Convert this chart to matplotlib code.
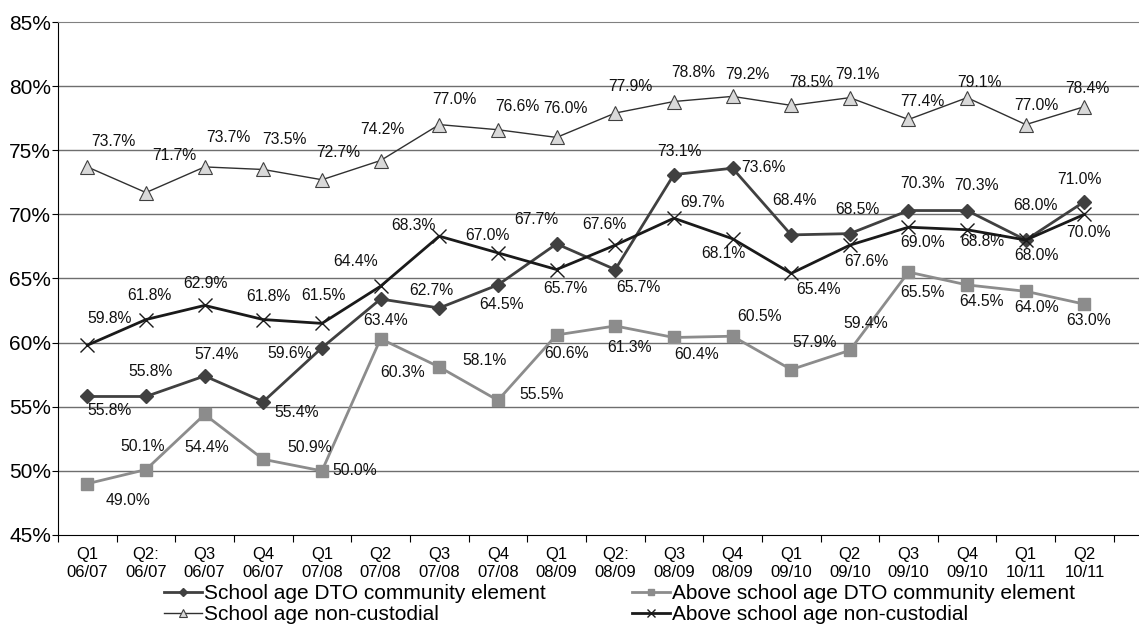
import numpy as np
import matplotlib
matplotlib.use("Agg")
import matplotlib.pyplot as plt

plt.rcParams['font.family'] = ['Liberation Sans', 'DejaVu Sans']

quarters = ["Q1\n06/07", "Q2:\n06/07", "Q3\n06/07", "Q4\n06/07", "Q1\n07/08", "Q2\n07/08",
            "Q3\n07/08", "Q4\n07/08", "Q1\n08/09", "Q2:\n08/09", "Q3\n08/09", "Q4\n08/09",
            "Q1\n09/10", "Q2\n09/10", "Q3\n09/10", "Q4\n09/10", "Q1\n10/11", "Q2\n10/11"]

school_dto = [55.8, 55.8, 57.4, 55.4, 59.6, 63.4, 62.7, 64.5, 67.7, 65.7,
              73.1, 73.6, 68.4, 68.5, 70.3, 70.3, 68.0, 71.0]
above_dto = [49.0, 50.1, 54.4, 50.9, 50.0, 60.3, 58.1, 55.5, 60.6, 61.3,
             60.4, 60.5, 57.9, 59.4, 65.5, 64.5, 64.0, 63.0]
school_nc = [73.7, 71.7, 73.7, 73.5, 72.7, 74.2, 77.0, 76.6, 76.0, 77.9,
             78.8, 79.2, 78.5, 79.1, 77.4, 79.1, 77.0, 78.4]
above_nc = [59.8, 61.8, 62.9, 61.8, 61.5, 64.4, 68.3, 67.0, 65.7, 67.6,
            69.7, 68.1, 65.4, 67.6, 69.0, 68.8, 68.0, 70.0]

# label offsets in pixels (dx, dy up)
off_school_dto = [(22, -14), (5, 25), (12, 21), (33, -11), (-32, -6), (5, -21), (-8, 17),
                  (4, -20), (-20, 24), (23, -18), (6, 23), (31, 1), (3, 34), (8, 24),
                  (14, 27), (9, 25), (10, 35), (-5, 22)]
off_above_dto = [(41, -17), (-3, 23), (2, -33), (46, 12), (33, 0), (22, -34), (45, 6),
                 (44, 6), (10, -19), (14, -22), (23, -17), (27, 20), (23, 27), (16, 27),
                 (14, -20), (14, -17), (11, -16), (4, -16)]
off_school_nc = [(26, 25), (28, 37), (24, 29), (21, 30), (16, 27), (2, 31), (15, 25),
                 (19, 23), (9, 29), (15, 27), (19, 29), (15, 22), (20, 23), (8, 23),
                 (14, 18), (12, 15), (11, 19), (3, 18)]
off_above_nc = [(22, 27), (3, 24), (1, 22), (5, 23), (1, 28), (-25, 25), (-26, 11),
                (-10, 17), (9, -19), (-11, 21), (29, 16), (-9, -15), (27, -16), (17, -16),
                (14, -15), (15, -12), (11, -15), (4, -18)]

W, H = 1139, 624
fig = plt.figure(figsize=(W / 100, H / 100), dpi=100)
ax = fig.add_axes([58 / W, 1 - 535 / H, 1 - 58 / W, (535 - 22) / H])

x = np.arange(len(quarters))

ax.set_ylim(45, 85)
ax.set_xlim(-0.5, 17.93)
for yv in range(50, 85, 5):
    ax.axhline(yv, color="#6e6e6e", lw=1.0, zorder=0)

l1, = ax.plot(x, school_dto, color="#404040", lw=2, marker="D", ms=7, zorder=3,
              label="School age DTO community element")
l2, = ax.plot(x, above_dto, color="#8c8c8c", lw=2, marker="s", ms=8, zorder=3,
              label="Above school age DTO community element")
l3, = ax.plot(x, school_nc, color="#303030", lw=1, marker="^", ms=9.5, mfc="#d9d9d9",
              mec="#404040", mew=0.8, zorder=3, label="School age non-custodial")
l4, = ax.plot(x, above_nc, color="#1a1a1a", lw=2, marker="x", ms=10, mew=1, zorder=3,
              label="Above school age non-custodial")

for vals, offs in [(school_dto, off_school_dto), (above_dto, off_above_dto),
                   (school_nc, off_school_nc), (above_nc, off_above_nc)]:
    for xi, v, (dx, dy) in zip(x, vals, offs):
        ax.annotate(f"{v:.1f}%", (xi, v), xytext=(dx, dy), textcoords="offset pixels",
                    ha="center", va="center", fontsize=11.3, color="#111111", zorder=4)

ax.spines["right"].set_visible(False)
ax.spines["top"].set_color("#808080")
ax.spines["left"].set_color("black")
ax.spines["bottom"].set_color("black")

ax.set_yticks(range(45, 90, 5))
ax.set_yticklabels([f"{v}%" for v in range(45, 90, 5)], fontsize=15)
ax.tick_params(axis="y", length=4, pad=1)

ax.set_xticks(np.arange(-0.5, 18, 1))
ax.set_xticklabels([])
ax.tick_params(axis="x", which="major", length=5)
ax.set_xticks(x, minor=True)
ax.set_xticklabels(quarters, minor=True, fontsize=12, linespacing=1.2)
ax.tick_params(axis="x", which="minor", length=0, pad=9)

leg_kw = dict(ncol=1, loc="upper left", frameon=False, fontsize=15, handlelength=1.8,
              handletextpad=0.12, labelspacing=0.12, markerscale=0.6,
              borderpad=0, borderaxespad=0)
leg1 = fig.legend([l1, l3], [l1.get_label(), l3.get_label()],
                  bbox_to_anchor=(164 / W, 1 - 584 / H), **leg_kw)
leg2 = fig.legend([l2, l4], [l2.get_label(), l4.get_label()],
                  bbox_to_anchor=(632 / W, 1 - 584 / H), **leg_kw)

fig.savefig("out.png", dpi=100)
